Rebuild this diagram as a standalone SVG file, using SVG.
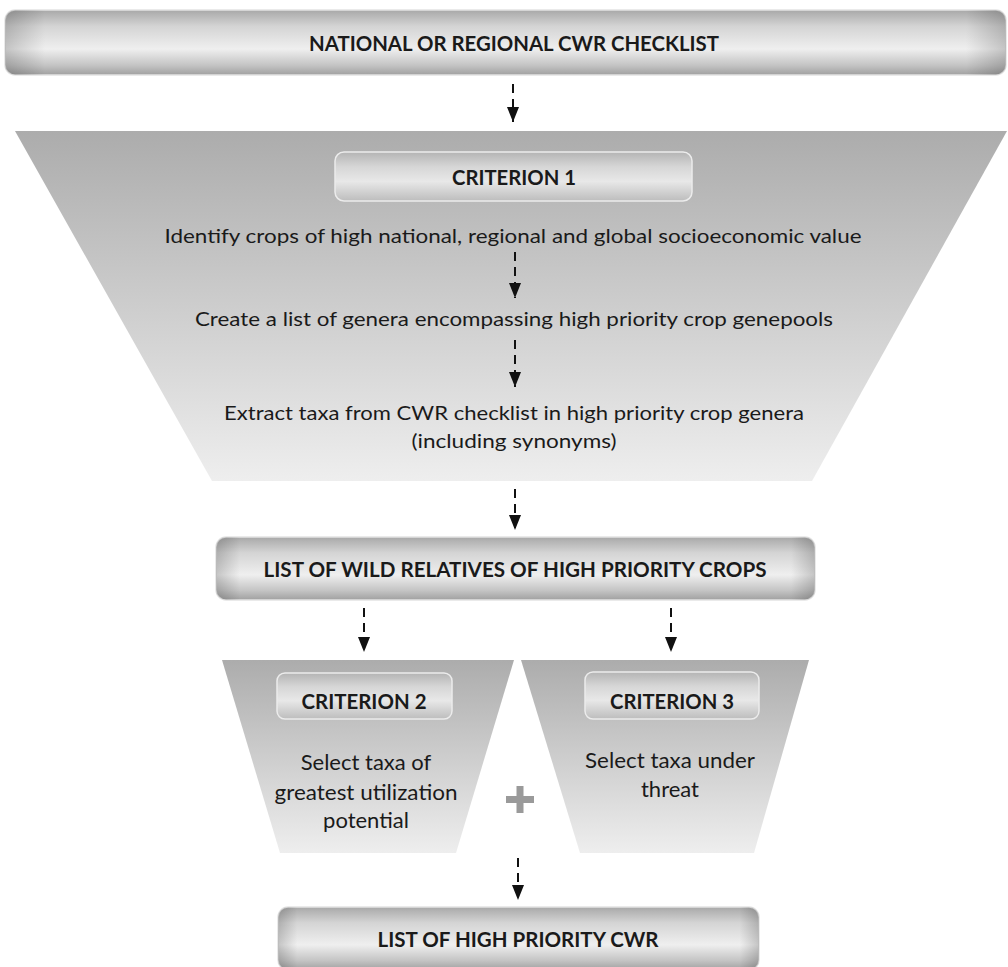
<svg xmlns="http://www.w3.org/2000/svg" width="1008" height="967" viewBox="0 0 1008 967">
<defs>
<style>
.t{font-family:Lato,"Liberation Sans",sans-serif;fill:#1a1a1a;text-anchor:middle}
.b{font-weight:bold;font-size:21px}
.r{font-size:20px}
.s{font-size:22px}
.bar{stroke:#e4e4e4;stroke-width:1.5}
.crit{stroke:#ececec;stroke-width:1.5}
.arr{stroke:#111;stroke-width:2;stroke-dasharray:9 6;fill:none;marker-end:url(#ah)}
</style>
<linearGradient id="gBar" x1="0" y1="0" x2="0" y2="1">
<stop offset="0" stop-color="#a8a8a8"/>
<stop offset="0.25" stop-color="#d4d4d4"/>
<stop offset="0.6" stop-color="#efefef"/>
<stop offset="0.85" stop-color="#c4c4c4"/>
<stop offset="1" stop-color="#a0a0a0"/>
</linearGradient>
<linearGradient id="gEnds" x1="0" y1="0" x2="1" y2="0">
<stop offset="0" stop-color="#000" stop-opacity="0.18"/>
<stop offset="0.04" stop-color="#000" stop-opacity="0"/>
<stop offset="0.96" stop-color="#000" stop-opacity="0"/>
<stop offset="1" stop-color="#000" stop-opacity="0.18"/>
</linearGradient>
<linearGradient id="gCrit" x1="0" y1="0" x2="0" y2="1">
<stop offset="0" stop-color="#b4b4b4"/>
<stop offset="0.3" stop-color="#d6d6d6"/>
<stop offset="0.6" stop-color="#e8e8e8"/>
<stop offset="1" stop-color="#bdbdbd"/>
</linearGradient>
<linearGradient id="gFun" x1="0" y1="0" x2="0" y2="1">
<stop offset="0" stop-color="#acacac"/>
<stop offset="1" stop-color="#eeeeee"/>
</linearGradient>
<marker id="ah" viewBox="0 0 15 12" refX="15" refY="6" markerWidth="15" markerHeight="12" markerUnits="userSpaceOnUse" orient="auto">
<path d="M0,0 L15,6 L0,12 z" fill="#111"/>
</marker>
</defs>
<rect width="1008" height="967" fill="#fff"/>

<g id="checklist">
<rect class="bar" x="5" y="10" width="1001" height="65" rx="10" fill="url(#gBar)"/>
<rect x="5" y="10" width="1001" height="65" rx="10" fill="url(#gEnds)"/>
<text class="t b" x="514" y="51" textLength="410" lengthAdjust="spacingAndGlyphs">NATIONAL OR REGIONAL CWR CHECKLIST</text>
</g>

<g id="criterion1-funnel">
<polygon points="15,131 1007,131 812,481 212,481" fill="url(#gFun)"/>
<rect class="crit" x="335" y="152" width="357" height="49" rx="9" fill="url(#gCrit)"/>
<text class="t b" x="514" y="185" textLength="124" lengthAdjust="spacingAndGlyphs">CRITERION 1</text>
<text class="t r" x="513" y="243" textLength="697" lengthAdjust="spacingAndGlyphs">Identify crops of high national, regional and global socioeconomic value</text>
<text class="t r" x="514" y="326" textLength="638" lengthAdjust="spacingAndGlyphs">Create a list of genera encompassing high priority crop genepools</text>
<text class="t r" x="514" y="420" textLength="580" lengthAdjust="spacingAndGlyphs">Extract taxa from CWR checklist in high priority crop genera</text>
<text class="t r" x="514" y="448" textLength="205" lengthAdjust="spacingAndGlyphs">(including synonyms)</text>
</g>

<g id="wild-relatives">
<rect class="bar" x="216" y="537" width="599" height="63" rx="10" fill="url(#gBar)"/>
<rect x="216" y="537" width="599" height="63" rx="10" fill="url(#gEnds)"/>
<text class="t b" x="515" y="577" textLength="503" lengthAdjust="spacingAndGlyphs">LIST OF WILD RELATIVES OF HIGH PRIORITY CROPS</text>
</g>

<g id="criterion2">
<polygon points="222,660 514,660 456,853 280,853" fill="url(#gFun)"/>
<rect class="crit" x="277" y="673" width="175" height="46" rx="8" fill="url(#gCrit)"/>
<text class="t b" x="364" y="709" textLength="125" lengthAdjust="spacingAndGlyphs">CRITERION 2</text>
<text class="t s" x="366" y="770">Select taxa of</text>
<text class="t s" x="366" y="800" textLength="183" lengthAdjust="spacingAndGlyphs">greatest utilization</text>
<text class="t s" x="366" y="828">potential</text>
</g>

<g id="criterion3">
<polygon points="521,660 809,660 754,853 580,853" fill="url(#gFun)"/>
<rect class="crit" x="585" y="672" width="174" height="47" rx="8" fill="url(#gCrit)"/>
<text class="t b" x="672" y="709" textLength="124" lengthAdjust="spacingAndGlyphs">CRITERION 3</text>
<text class="t s" x="670" y="768" textLength="170" lengthAdjust="spacingAndGlyphs">Select taxa under</text>
<text class="t s" x="670" y="797">threat</text>
</g>

<g id="plus">
<path d="M520,786 V813 M506,799.5 H534" stroke="#9a9a9a" stroke-width="7"/>
</g>

<g id="high-priority-cwr">
<rect class="bar" x="278" y="907" width="481" height="63" rx="10" fill="url(#gBar)"/>
<rect x="278" y="907" width="481" height="63" rx="10" fill="url(#gEnds)"/>
<text class="t b" x="518" y="947" textLength="281" lengthAdjust="spacingAndGlyphs">LIST OF HIGH PRIORITY CWR</text>
</g>

<g id="connectors">
<line class="arr" x1="513" y1="84" x2="513" y2="122"/>
<line class="arr" x1="515" y1="252" x2="515" y2="298"/>
<line class="arr" x1="515" y1="340" x2="515" y2="387"/>
<line class="arr" x1="515" y1="489" x2="515" y2="530"/>
<line class="arr" x1="364" y1="608" x2="364" y2="652"/>
<line class="arr" x1="671" y1="608" x2="671" y2="652"/>
<line class="arr" x1="518" y1="858" x2="518" y2="900"/>
</g>
</svg>
